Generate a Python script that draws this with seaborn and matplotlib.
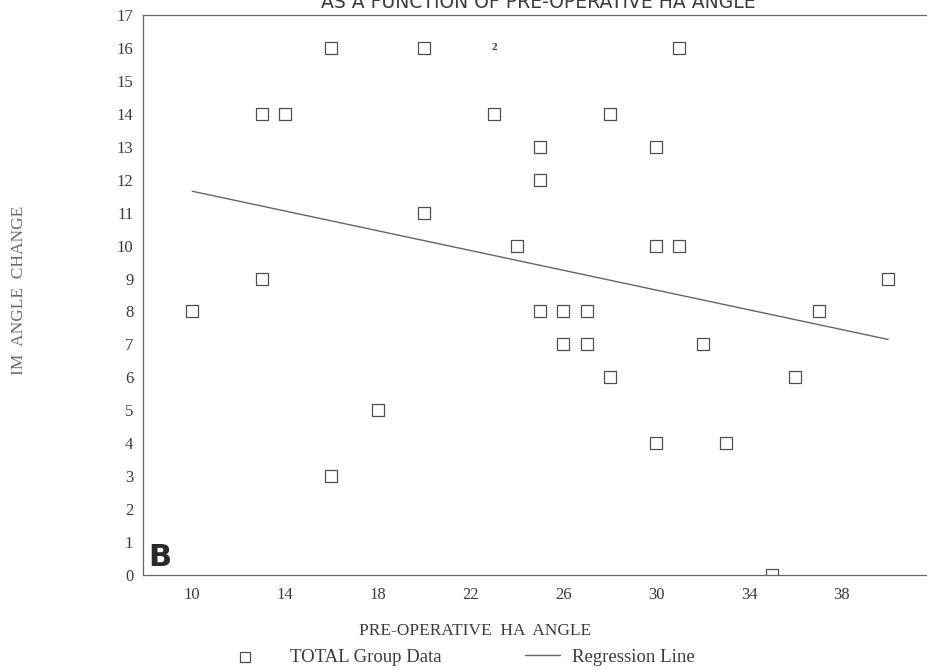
import numpy as np
import pandas as pd
import matplotlib
matplotlib.use("Agg")
import matplotlib.pyplot as plt
from matplotlib.lines import Line2D
import seaborn as sns

# pre-operative HA angle vs IM angle change
ha_angle = [10, 13, 14, 13, 16, 20, 23, 20, 24, 25, 25, 28, 30, 31, 30, 31, 40,
            25, 26, 27, 26, 27, 28, 30, 32, 33, 36, 37, 35, 16, 18]
im_change = [8, 14, 14, 9, 16, 16, 14, 11, 10, 13, 12, 14, 13, 16, 10, 10, 9,
             8, 8, 8, 7, 7, 6, 4, 7, 4, 6, 8, 0, 3, 5]
# two cases sharing one spot, marked "2"
double_x = [23]
double_y = [16]
# regression line end points
reg_x = [10, 40]
reg_y = [11.65, 7.15]

x_major = [10, 14, 18, 22, 26, 30, 34, 38]
x_minor = [12, 16, 20, 24, 28, 32, 36, 40]
y_ticks = list(range(0, 18))

df = pd.DataFrame({"ha": ha_angle, "im": im_change})
reg = pd.DataFrame({"x": reg_x, "y": reg_y})

sns.set_style("white")
plt.rcParams["font.family"] = ["Liberation Serif", "DejaVu Serif"]
ink = "#3c3c3c"

fig = plt.figure(figsize=(9.27, 6.7), dpi=100)
ax = fig.add_axes([0.1543, 0.1418, 0.904, 0.8358])

sns.scatterplot(data=df, x="ha", y="im", marker="s", s=75,
                facecolor="none", edgecolor="#505050", linewidth=0.9, ax=ax, zorder=3)
sns.lineplot(data=reg, x="x", y="y", color="#666666", linewidth=1.0, ax=ax)
for dx, dy in zip(double_x, double_y):
    ax.text(dx, dy, "2", fontsize=8, fontweight="bold", color=ink,
            ha="center", va="center")

ax.set_xlim(7.88, 44)
ax.set_ylim(0, 17)
ax.set_xticks(x_major)
ax.set_xticks(x_minor, minor=True)
ax.set_yticks(y_ticks)
ax.tick_params(axis="both", which="both", direction="in", length=8, width=0.8,
               color="#555555", labelcolor=ink, labelsize=12)
ax.tick_params(axis="x", pad=9)
ax.tick_params(axis="y", pad=7)
for sp in ax.spines.values():
    sp.set_color("#666666")
    sp.set_linewidth(0.9)

ax.set_xlabel("")
ax.set_ylabel("")
fig.text(0.512, 0.058, "PRE-OPERATIVE  HA  ANGLE", ha="center", va="center",
         fontsize=12.5, color=ink)
fig.text(0.02, 0.567, "IM  ANGLE  CHANGE", rotation=90, ha="center", va="center",
         fontsize=12.5, color="#6a6a6a")

ax.text(0.006, 0.006, "B", transform=ax.transAxes, fontsize=22, fontweight="bold",
        family="DejaVu Sans", color="#2a2a2a", ha="left", va="bottom")

fig.text(0.581, 0.997, "AS A FUNCTION OF PRE-OPERATIVE HA ANGLE", ha="center",
         va="center", fontsize=13.5, color=ink, family="DejaVu Sans")

# legend drawn underneath, as in the scan
leg_y = 0.019
fig.add_artist(Line2D([0.264], [leg_y], transform=fig.transFigure, marker="s",
                      linestyle="none", markersize=7, markerfacecolor="none",
                      markeredgecolor="#505050", markeredgewidth=0.9))
fig.text(0.313, leg_y, "TOTAL Group Data", ha="left", va="center",
         fontsize=13.5, color=ink)
fig.add_artist(Line2D([0.566, 0.604], [leg_y + 0.003, leg_y + 0.003],
                      transform=fig.transFigure, color="#666666", linewidth=1.0))
fig.text(0.617, leg_y, "Regression Line", ha="left", va="center",
         fontsize=13.5, color=ink)

fig.savefig("out.png", dpi=100)
